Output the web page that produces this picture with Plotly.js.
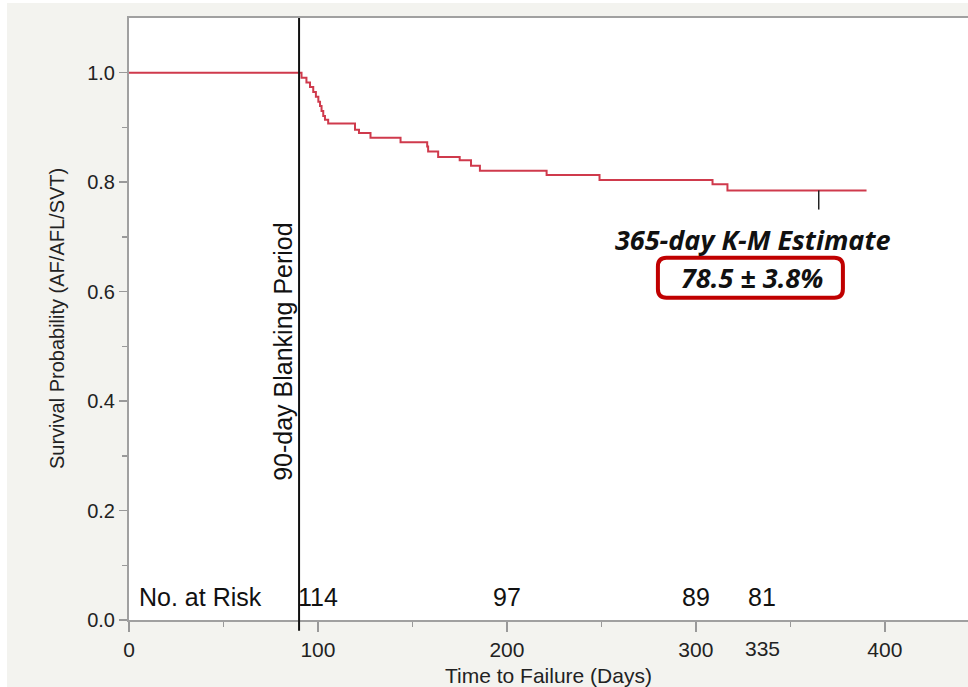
<!DOCTYPE html>
<html><head><meta charset="utf-8">
<script src="https://cdn.plot.ly/plotly-3.0.1.min.js"></script>
<style>html,body{margin:0;padding:0;background:#fff;}#chart{position:absolute;left:7px;top:3px;width:961px;height:684px;}</style>
</head><body><div id="chart"></div>
<script>
const days = [0, 91.3, 93.9, 95.8, 97.5, 98.9, 100.2, 101.1, 101.9, 102.8, 103.7, 105.4, 119.6, 121.7, 127.8, 143.7, 157.8, 158.3, 163.6, 175, 181, 185.7, 221, 249, 308.8, 316.7, 390.3];
const survival = [1.0, 0.991, 0.982, 0.974, 0.965, 0.956, 0.947, 0.939, 0.930, 0.921, 0.914, 0.907, 0.896, 0.890, 0.881, 0.873, 0.865, 0.856, 0.846, 0.840, 0.830, 0.821, 0.813, 0.804, 0.796, 0.785, 0.785];
const riskDays = [100, 200, 300, 335];
const riskCounts = ['114', '97', '89', '81'];
const xTicks = [0, 100, 200, 300, 400];
const yTicks = [0, 0.2, 0.4, 0.6, 0.8, 1.0];
const blankingDay = 90;
const estimateDay = 365;
const estimateValue = 0.785;

const font = "'Liberation Sans', Arial, Helvetica, sans-serif";
const calib = "'Open Sans', Lato, sans-serif";

const trace = {
  x: days, y: survival, type: 'scatter', mode: 'lines',
  line: {shape: 'hv', color: '#cf3a4c', width: 2},
  hoverinfo: 'skip', showlegend: false
};

const annotations = [];
annotations.push({x: 4.3, y: 0.042, xref: 'x', yref: 'y', text: 'No. at Risk', showarrow: false, xanchor: 'left', yanchor: 'middle', font: {family: font, size: 25, color: '#111'}});
riskDays.forEach((d, i) => annotations.push({x: d, y: 0.042, xref: 'x', yref: 'y', text: riskCounts[i], showarrow: false, xanchor: 'center', yanchor: 'middle', font: {family: font, size: 25, color: '#111'}}));
annotations.push({x: 335, y: 0, xref: 'x', yref: 'y', yshift: -28, text: '335', showarrow: false, xanchor: 'center', yanchor: 'middle', font: {family: font, size: 21, color: '#222'}});
annotations.push({x: 81.5, y: 0.49, xref: 'x', yref: 'y', text: '90-day Blanking Period', textangle: -90, showarrow: false, xanchor: 'center', yanchor: 'middle', font: {family: font, size: 25, color: '#111'}});
annotations.push({x: 0, y: 0.55, xref: 'paper', yref: 'y', xshift: -72, text: 'Survival Probability (AF/AFL/SVT)', textangle: -90, showarrow: false, xanchor: 'center', yanchor: 'middle', font: {family: font, size: 20, color: '#222'}});
annotations.push({x: 330, y: 0.695, xref: 'x', yref: 'y', text: '<b><i>365-day K-M Estimate</i></b>', showarrow: false, xanchor: 'center', yanchor: 'middle', font: {family: calib, size: 27, color: '#111'}});
annotations.push({x: 329.5, y: 0.626, xref: 'x', yref: 'y', text: '<b><i>78.5 ± 3.8%</i></b>', showarrow: false, xanchor: 'center', yanchor: 'middle', font: {family: calib, size: 27, color: '#111'}});

// rounded box
const x0 = 279.9, x1 = 377.8, y0 = 0.589, y1 = 0.662, rx = 4.5, ry = 0.016;
const boxPath = `M ${x0+rx},${y1} L ${x1-rx},${y1} Q ${x1},${y1} ${x1},${y1-ry} L ${x1},${y0+ry} Q ${x1},${y0} ${x1-rx},${y0} L ${x0+rx},${y0} Q ${x0},${y0} ${x0},${y0+ry} L ${x0},${y1-ry} Q ${x0},${y1} ${x0+rx},${y1} Z`;

const shapes = [
  {type: 'line', xref: 'x', yref: 'paper', x0: blankingDay, x1: blankingDay, y0: -0.018, y1: 1, line: {color: '#111', width: 2}},
  {type: 'line', xref: 'x', yref: 'y', x0: estimateDay, x1: estimateDay, y0: estimateValue, y1: 0.75, line: {color: '#222', width: 1.5}},
  {type: 'path', xref: 'x', yref: 'y', path: boxPath, line: {color: '#c00000', width: 4}, fillcolor: 'rgba(0,0,0,0)'}
];

const layout = {
  width: 961, height: 684,
  paper_bgcolor: '#f3f3ef', plot_bgcolor: '#ffffff',
  margin: {l: 122, r: 0, t: 15, b: 67},
  showlegend: false,
  xaxis: {
    range: [0, 444], tickmode: 'array', tickvals: xTicks, ticktext: xTicks.map(String),
    ticks: 'outside', ticklen: 10, tickwidth: 1.5, tickcolor: '#999',
    showline: true, linecolor: '#a0a0a0', linewidth: 2, mirror: true,
    showgrid: false, zeroline: false,
    tickfont: {family: font, size: 21, color: '#222'},
    minor: {tickvals: [50, 150, 250, 350], ticks: 'outside', ticklen: 5, tickcolor: '#999', tickwidth: 1.5},
    title: {text: 'Time to Failure (Days)', font: {family: font, size: 21, color: '#222'}, standoff: 9}
  },
  yaxis: {
    range: [0, 1.1], tickmode: 'array', tickvals: yTicks, ticktext: yTicks.map(v => v.toFixed(1)),
    ticks: 'outside', ticklen: 8, tickwidth: 1.5, tickcolor: '#999',
    showline: true, linecolor: '#a0a0a0', linewidth: 2,
    showgrid: false, zeroline: false,
    tickfont: {family: font, size: 20, color: '#222'},
    minor: {tickvals: [0.1, 0.3, 0.5, 0.7, 0.9], ticks: 'outside', ticklen: 5, tickcolor: '#999', tickwidth: 1.5}
  },
  annotations: annotations,
  shapes: shapes
};

Plotly.newPlot('chart', [trace], layout, {displayModeBar: false, staticPlot: true});
</script></body></html>
